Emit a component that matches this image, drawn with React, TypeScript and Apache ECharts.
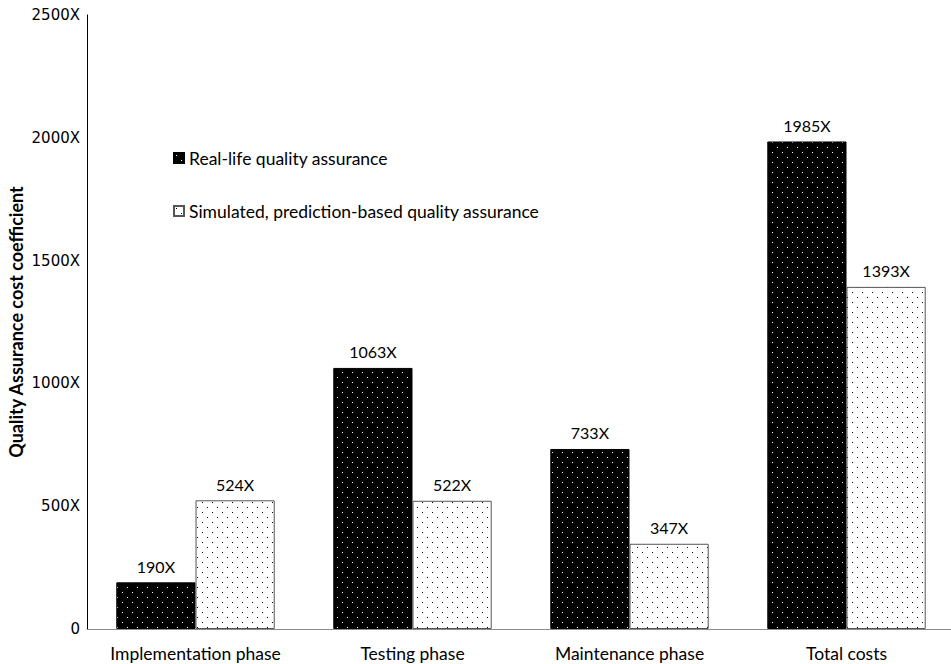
import React, { useEffect, useRef } from "react";
import * as echarts from "echarts";

const categories = ["Implementation phase", "Testing phase", "Maintenance phase", "Total costs"];
const realLife = [190, 1063, 733, 1985];
const simulated = [524, 522, 347, 1393];
const seriesNames = ["Real-life quality assurance", "Simulated, prediction-based quality assurance"];
const yTicks = [0, 500, 1000, 1500, 2000, 2500];

function makePattern(bg: string, dot: string): HTMLCanvasElement {
  const c = document.createElement("canvas");
  c.width = 10;
  c.height = 10;
  const ctx = c.getContext("2d")!;
  ctx.fillStyle = bg;
  ctx.fillRect(0, 0, 10, 10);
  ctx.fillStyle = dot;
  ctx.fillRect(2, 2, 1, 1);
  ctx.fillRect(7, 7, 1, 1);
  return c;
}

export default function App() {
  const ref = useRef<HTMLDivElement>(null);
  useEffect(() => {
    if (!ref.current) return;
    const chart = echarts.init(ref.current, undefined, { renderer: "svg" });
    const blackPat = { image: makePattern("#000000", "#ffffff"), repeat: "repeat" };
    const whitePat = { image: makePattern("#ffffff", "#000000"), repeat: "repeat" };
    const labelFmt = (p: any) => `${p.value}X`;
    chart.setOption({
      animation: false,
      backgroundColor: "#ffffff",
      grid: { left: 87, right: -4, top: 15, bottom: 35, containLabel: false, outerBoundsMode: "none" },
      legend: {
        orient: "vertical",
        left: 173,
        top: 149,
        padding: 0,
        itemWidth: 10,
        itemHeight: 10,
        itemGap: 35,
        icon: "rect",
        textStyle: { fontFamily: "Lato", fontSize: 17.5, color: "#000" },
        data: seriesNames,
      },
      xAxis: {
        type: "category",
        data: categories,
        axisLine: { lineStyle: { color: "#8c8c8c", width: 1 } },
        axisTick: { show: false },
        axisLabel: { fontFamily: "Lato", fontSize: 17.5, color: "#000", margin: 15, interval: 0, hideOverlap: false },
      },
      yAxis: {
        type: "value",
        min: 0,
        max: 2500,
        interval: 500,
        name: "Quality Assurance cost coefficient",
        nameLocation: "middle",
        nameGap: 62,
        nameMoveOverlap: false,
        nameTextStyle: { fontFamily: "Lato", fontWeight: "bold", fontSize: 18, color: "#000" },
        axisLine: { show: true, lineStyle: { color: "#000", width: 1 } },
        axisTick: { show: false },
        splitLine: { show: false },
        axisLabel: {
          fontFamily: "DejaVu Sans",
          fontSize: 15,
          color: "#000",
          margin: 7,
          formatter: (v: number) => (yTicks.includes(v) && v !== 0 ? `${v}X` : `${v}`),
        },
      },
      series: [
        {
          name: seriesNames[0],
          type: "bar",
          data: realLife,
          barGap: "0%",
          barCategoryGap: "27%",
          itemStyle: { color: blackPat, borderColor: "#000", borderWidth: 1 },
          label: {
            show: true,
            position: "top",
            distance: 8,
            formatter: labelFmt,
            fontFamily: "Lato",
            fontSize: 16,
            color: "#000",
          },
        },
        {
          name: seriesNames[1],
          type: "bar",
          data: simulated,
          barGap: "0%",
          barCategoryGap: "27%",
          itemStyle: { color: whitePat, borderColor: "#555", borderWidth: 1 },
          label: {
            show: true,
            position: "top",
            distance: 8,
            formatter: labelFmt,
            fontFamily: "Lato",
            fontSize: 16,
            color: "#000",
          },
        },
      ],
    });
    return () => chart.dispose();
  }, []);
  return <div ref={ref} style={{ width: 951, height: 664, position: "absolute", left: 0, top: 0 }} />;
}
